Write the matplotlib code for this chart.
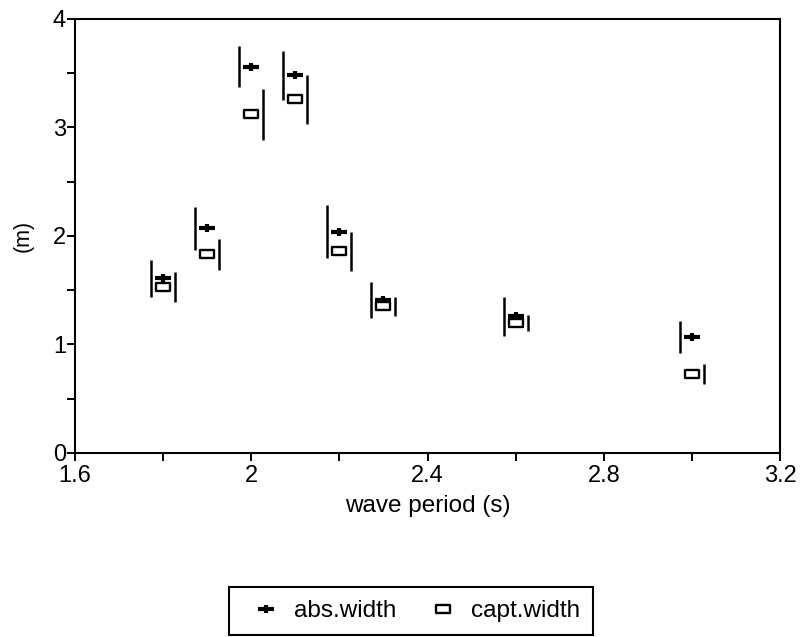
import numpy as np
import matplotlib
matplotlib.use('Agg')
import matplotlib.pyplot as plt
from matplotlib.path import Path
from matplotlib.transforms import ScaledTranslation
from matplotlib.ticker import MultipleLocator, FormatStrFormatter

# DATA: WIDTHS (m) AGAINST WAVE PERIOD (s), WITH SPREAD OF EACH
period = [1.8, 1.9, 2.0, 2.1, 2.2, 2.3, 2.6, 3.0]
abs_width = [1.61, 2.07, 3.56, 3.48, 2.04, 1.41, 1.26, 1.07]
abs_err = [0.17, 0.195, 0.19, 0.225, 0.245, 0.17, 0.18, 0.15]
capt_width = [1.53, 1.83, 3.12, 3.26, 1.86, 1.35, 1.20, 0.73]
capt_err = [0.14, 0.145, 0.235, 0.225, 0.18, 0.09, 0.075, 0.09]

x_ticks = [1.6, 2.0, 2.4, 2.8, 3.2]
y_ticks = [0, 1, 2, 3, 4]

plt.rcParams['font.family'] = ['Liberation Sans', 'DejaVu Sans']

# MARKERS: WIDE BOLD PLUS AND FLAT OPEN BOX
plus_marker = Path([(-1, 0), (1, 0), (0, -0.55), (0, 0.55)],
                   [Path.MOVETO, Path.LINETO, Path.MOVETO, Path.LINETO])
box_marker = Path([(-1, -0.6), (1, -0.6), (1, 0.6), (-1, 0.6), (-1, -0.6)],
                  [Path.MOVETO, Path.LINETO, Path.LINETO, Path.LINETO, Path.CLOSEPOLY])

fig = plt.figure(figsize=(8.02, 6.37), dpi=100)
ax = fig.add_axes([0.0935, 0.2889, 0.8791, 0.6813])

# ERROR BARS SHIFTED SIDEWAYS: abs to the left, capt to the right
left_shift = ax.transData + ScaledTranslation(-0.12, 0, fig.dpi_scale_trans)
right_shift = ax.transData + ScaledTranslation(0.12, 0, fig.dpi_scale_trans)

a = np.array(abs_width)
ae = np.array(abs_err)
c = np.array(capt_width)
ce = np.array(capt_err)
ax.vlines(period, a - ae, a + ae, colors='black', linewidth=1.8, transform=left_shift)
ax.vlines(period, c - ce, c + ce, colors='black', linewidth=1.8, transform=right_shift)

ax.plot(period, abs_width, linestyle='none', marker=plus_marker, markersize=11,
        markeredgewidth=3.0, color='black', label='abs.width', zorder=3)
ax.plot(period, capt_width, linestyle='none', marker=box_marker, markersize=10,
        markeredgewidth=1.7, markerfacecolor='white', markeredgecolor='black',
        label='capt.width', zorder=3)

# AXES
ax.set_xlim(1.6, 3.2)
ax.set_ylim(0, 4)
ax.set_xticks(x_ticks)
ax.set_yticks(y_ticks)
ax.xaxis.set_minor_locator(MultipleLocator(0.2))
ax.yaxis.set_minor_locator(MultipleLocator(0.5))
ax.xaxis.set_major_formatter(FormatStrFormatter('%g'))
ax.yaxis.set_major_formatter(FormatStrFormatter('%g'))
ax.tick_params(which='both', direction='out', length=5.5, width=1.4, color='black')
ax.tick_params(axis='x', labelsize=17, pad=3)
ax.tick_params(axis='y', labelsize=17, pad=1)
for s in ax.spines.values():
    s.set_linewidth(1.5)

ax.set_xlabel('wave period (s)', fontsize=17.5, labelpad=6)
ax.set_ylabel('(m)', fontsize=15.5, labelpad=14)

# LEGEND BELOW THE PLOT
leg = fig.legend(loc='center', bbox_to_anchor=(0.5125, 0.0408), ncol=2, fontsize=17.5,
                 frameon=True, fancybox=False, framealpha=1, borderpad=0.55,
                 handlelength=2.0, handletextpad=0.15, columnspacing=0.9)
leg.get_frame().set_edgecolor('black')
leg.get_frame().set_linewidth(1.5)

fig.savefig('out.png', dpi=100)
